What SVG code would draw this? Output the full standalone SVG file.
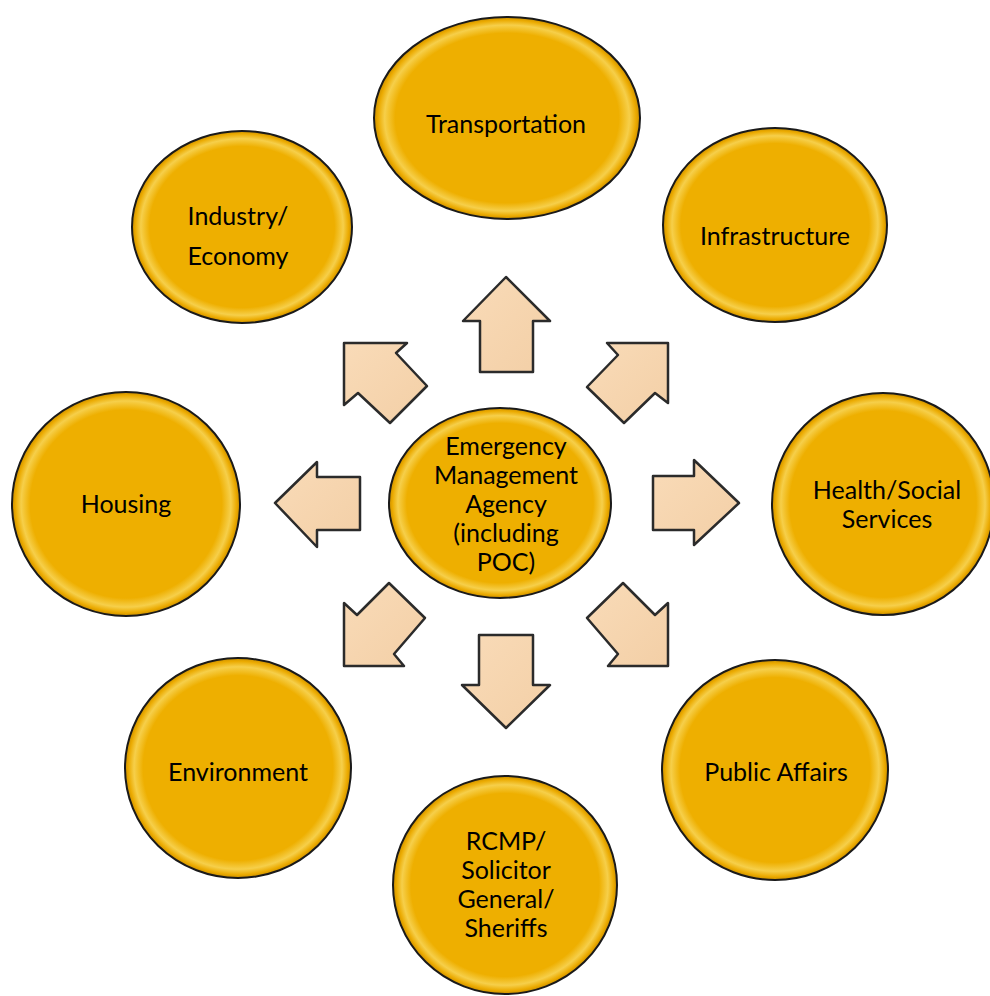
<svg xmlns="http://www.w3.org/2000/svg" width="990" height="996" viewBox="0 0 990 996">
<defs>
<radialGradient id="gold" cx="50%" cy="50%" r="50%">
<stop offset="0%" stop-color="#EEAF00"/>
<stop offset="84%" stop-color="#EEAF00"/>
<stop offset="92%" stop-color="#F6CF4A"/>
<stop offset="97%" stop-color="#EBAA00"/>
<stop offset="100%" stop-color="#C98E00"/>
</radialGradient>
<linearGradient id="peach" x1="0" y1="0" x2="1" y2="1">
<stop offset="0%" stop-color="#F9DBB8"/>
<stop offset="100%" stop-color="#F3CFA6"/>
</linearGradient>
<style>
.node ellipse{fill:url(#gold);stroke:#1a1a1a;stroke-width:2}
.node text{font-family:Lato,"Open Sans","Liberation Sans",sans-serif;font-size:25px;fill:#000;text-anchor:middle;dominant-baseline:central}
.arrow{fill:url(#peach);stroke:#2b2b2b;stroke-width:2.5;stroke-linejoin:round}
</style>
</defs>
<rect width="990" height="996" fill="#fff"/>
<g id="connectors">
<polygon class="arrow" points="506,277 550,321 533,321 533,372 480,372 480,321 463,321"/>
<polygon class="arrow" points="506,728 550,685 533,685 533,635 479,635 479,685 462,685"/>
<polygon class="arrow" points="275,503 317,462 317,477 360,477 360,530 317,530 317,547"/>
<polygon class="arrow" points="739,503 694,460 694,476 653,476 653,530 694,530 694,545"/>
<polygon class="arrow" points="344,343 407,343 396,353 427,386 390,423 358,393 344,405"/>
<polygon class="arrow" points="668,343 607,343 618,355 587,387 624,423 655,393 668,403"/>
<polygon class="arrow" points="344,666 404,666 394,654 425,618 389,583 357,615 344,603"/>
<polygon class="arrow" points="668,666 608,666 618,654 587,618 623,583 655,615 668,603"/>
</g>
<g id="transportation" class="node">
<ellipse cx="507" cy="118" rx="133" ry="101"/>
<text x="506" y="123">Transportation</text>
</g>
<g id="industry" class="node">
<ellipse cx="242" cy="227" rx="110" ry="96"/>
<text x="238" y="215">Industry/</text>
<text x="238" y="255">Economy</text>
</g>
<g id="infrastructure" class="node">
<ellipse cx="775" cy="225" rx="112" ry="97"/>
<text x="775" y="235">Infrastructure</text>
</g>
<g id="housing" class="node">
<ellipse cx="126" cy="504" rx="114" ry="112"/>
<text x="126" y="503">Housing</text>
</g>
<g id="health" class="node">
<ellipse cx="883" cy="504" rx="111" ry="111"/>
<text x="887" y="489">Health/Social</text>
<text x="887" y="518">Services</text>
</g>
<g id="ema" class="node">
<ellipse cx="500" cy="503" rx="111" ry="95"/>
<text x="506" y="445">Emergency</text>
<text x="506" y="474">Management</text>
<text x="506" y="503">Agency</text>
<text x="506" y="532">(including</text>
<text x="506" y="561">POC)</text>
</g>
<g id="environment" class="node">
<ellipse cx="238" cy="768" rx="113" ry="110"/>
<text x="238" y="771">Environment</text>
</g>
<g id="public-affairs" class="node">
<ellipse cx="775" cy="770" rx="113" ry="110"/>
<text x="776" y="771">Public Affairs</text>
</g>
<g id="rcmp" class="node">
<ellipse cx="505" cy="885" rx="112" ry="109"/>
<text x="506" y="840">RCMP/</text>
<text x="506" y="869">Solicitor</text>
<text x="506" y="898">General/</text>
<text x="506" y="927">Sheriffs</text>
</g>
</svg>
